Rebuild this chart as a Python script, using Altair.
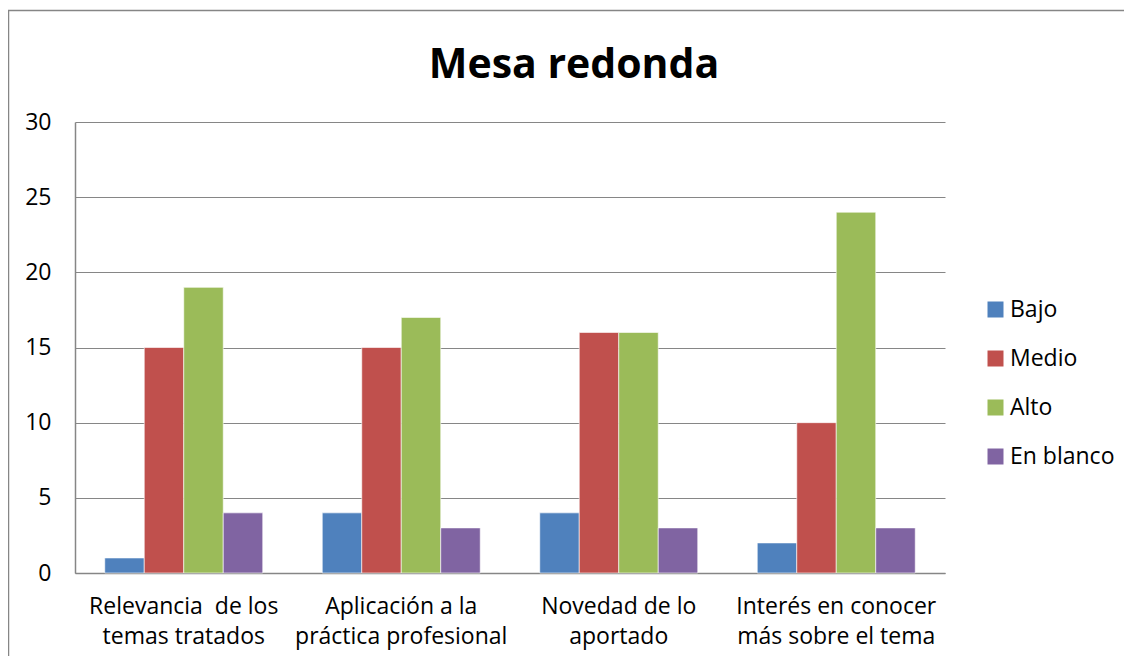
import altair as alt
import pandas as pd

categories = [
    "Relevancia  de los\ntemas tratados",
    "Aplicación a la\npráctica profesional",
    "Novedad de lo\naportado",
    "Interés en conocer\nmás sobre el tema",
]
series = ["Bajo", "Medio", "Alto", "En blanco"]
values = {
    "Bajo": [1, 4, 4, 2],
    "Medio": [15, 15, 16, 10],
    "Alto": [19, 17, 16, 24],
    "En blanco": [4, 3, 3, 3],
}
colors = ["#4F81BD", "#C0504D", "#9BBB59", "#8064A2"]
title_text = "Mesa redonda"
FONT = "Open Sans"

rows = []
for s in series:
    for c, v in zip(categories, values[s]):
        rows.append({"cat": c, "serie": s, "valor": v})
df = pd.DataFrame(rows)

bars = alt.Chart(df).mark_bar(stroke="white", strokeWidth=0.6).encode(
    x=alt.X("cat:N", sort=categories, title=None,
            scale=alt.Scale(paddingInner=0.2736, paddingOuter=0.1368),
            axis=alt.Axis(labelAngle=0,
                          labelExpr="split(replace(datum.label, '  ', '\u00a0 '), '\\n')",
                          labelFontSize=23, labelFont=FONT, labelColor="black",
                          labelLineHeight=30, labelPadding=22, ticks=False,
                          domainColor="#868686", domainWidth=1.5, labelLimit=400)),
    xOffset=alt.XOffset("serie:N", sort=series),
    y=alt.Y("valor:Q", title=None,
            scale=alt.Scale(domain=[0, 30]),
            axis=alt.Axis(values=[0, 5, 10, 15, 20, 25, 30], ticks=False,
                          labelFontSize=23, labelFont=FONT, labelColor="black",
                          labelPadding=24, gridColor="#868686", gridWidth=1,
                          domainColor="#868686", domainWidth=1.5)),
    color=alt.Color("serie:N", sort=series,
                    scale=alt.Scale(domain=series, range=colors),
                    legend=alt.Legend(title=None, orient="none", legendX=909, legendY=176,
                                      symbolType="square", symbolSize=256,
                                      symbolStrokeWidth=0, labelFontSize=23,
                                      labelFont=FONT, labelColor="black",
                                      rowPadding=25, labelOffset=3)),
)

one = pd.DataFrame({"t": [title_text]})
frame = alt.Chart(one).mark_rect(fill=None, stroke="#868686", strokeWidth=1.5).encode(
    x=alt.value(-66.5), x2=alt.value(1100), y=alt.value(-111.5), y2=alt.value(600)
)
title = alt.Chart(one).mark_text(fontSize=41, fontWeight="bold", font=FONT,
                                 baseline="alphabetic", align="center", color="black").encode(
    x=alt.value(499), y=alt.value(-44), text="t:N"
)

chart = alt.layer(frame, bars, title).properties(
    width=870, height=451,
    autosize=alt.AutoSizeParams(type="none"),
    padding={"left": 67, "top": 114, "right": 179, "bottom": 83},
).configure_view(stroke=None)

chart.save("out.html", embed_options={"renderer": "svg", "actions": False})
